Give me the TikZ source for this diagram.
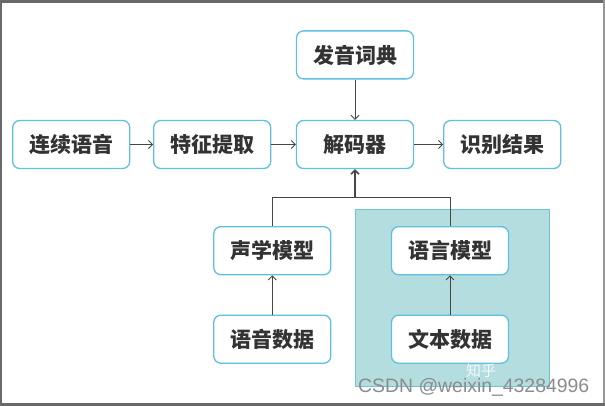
\documentclass[tikz,border=0pt]{standalone}
\usepackage{fontspec}
\newfontfamily\cjk{Noto Sans CJK SC}
\setmainfont{Liberation Sans}
\usetikzlibrary{arrows.meta}
\definecolor{boxc}{RGB}{95,192,224}
\definecolor{tealf}{RGB}{180,221,224}
\definecolor{tealb}{RGB}{110,196,210}
\definecolor{arr}{RGB}{70,70,70}
\definecolor{framec}{RGB}{105,105,105}
\begin{document}
\begin{tikzpicture}[x=1pt,y=-1pt,
  box/.style={draw=boxc, line width=1.3pt, rounded corners=7pt, fill=white,
    minimum width=117pt, minimum height=48pt, inner sep=0pt,
    font=\cjk\bfseries\fontsize{21}{25}\selectfont, text=black!80},
  conn/.style={draw=arr, line width=0.9pt, -{Straight Barb[length=4pt,width=8pt]}},
  plain/.style={draw=arr, line width=1pt}]
\useasboundingbox (0,0) rectangle (605,406);
\fill[white] (0,0) rectangle (605,406);
% frame
\fill[framec] (0,0) rectangle (605,3.5);
\fill[framec] (0,0) rectangle (2,406);
\fill[framec!70] (603,0) rectangle (605,406);
\fill[framec] (0,402.5) rectangle (605,406);
% teal region
\draw[tealb, fill=tealf, line width=1pt] (355,209.3) rectangle (549,386.7);
% nodes
\node[box] (lx) at (71.2,144.5) {连续语音};
\node[box] (tz) at (212.2,144.5) {特征提取};
\node[box] (jm) at (355,144.5) {解码器};
\node[box] (sb) at (502.2,144.5) {识别结果};
\node[box] (fy) at (355,54.9) {发音词典};
\node[box] (sx) at (272.3,250.7) {声学模型};
\node[box] (yy) at (272.3,339.2) {语音数据};
\node[box] (ym) at (450,250.7) {语言模型};
\node[box] (wb) at (450,339.2) {文本数据};
\coordinate (j) at (355,197.3);
% connectors
\draw[conn] (lx) -- (tz);
\draw[conn] (tz) -- (jm);
\draw[conn] (jm) -- (sb);
\draw[conn] (fy) -- (jm);
\draw[conn] (yy) -- (sx);
\draw[conn] (wb) -- (ym);
\draw[plain] (sx.north) |- (j) -| (ym.north);
\draw[conn, line width=1.5pt] (j) -- (jm.south);
% watermarks
\node[text=white, opacity=0.85, font=\cjk\fontsize{15}{17}\selectfont, anchor=west, inner sep=0pt] (zh) at (466,370.5) {知乎};
\node[text=black!45, font=\fontsize{19.4}{22}\selectfont, anchor=west, inner sep=0pt] (wm) at (358,387.5) {CSDN @weixin\_43284996};
\end{tikzpicture}
\end{document}
